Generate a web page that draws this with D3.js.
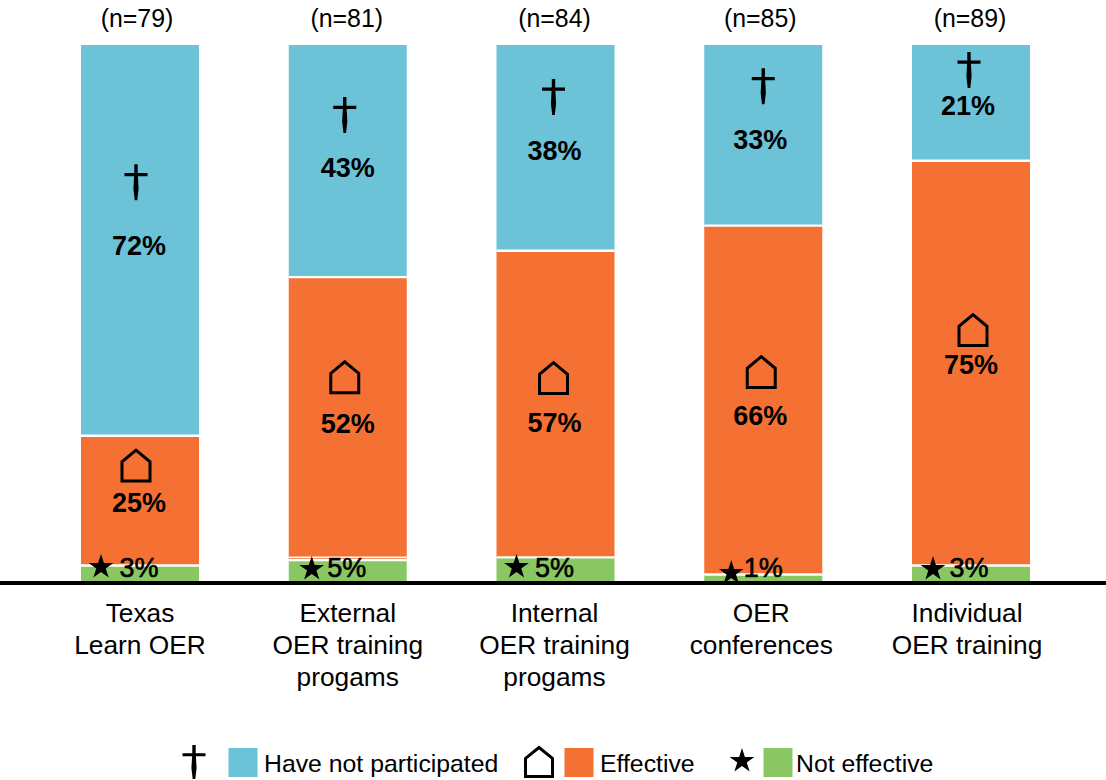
<!DOCTYPE html>
<html><head><meta charset="utf-8">
<script src="https://cdnjs.cloudflare.com/ajax/libs/d3/7.8.5/d3.min.js"></script>
<style>html,body{margin:0;padding:0;background:#fff}svg{display:block}text{font-family:"Liberation Sans",Arial,sans-serif;fill:#000}</style>
</head><body><svg id="c" width="1106" height="780"></svg>
<script>
const categories=[["Texas","Learn OER"],["External","OER training","progams"],["Internal","OER training","progams"],["OER","conferences"],["Individual","OER training"]];
const sampleSizes=["(n=79)","(n=81)","(n=84)","(n=85)","(n=89)"];
const notEffective=[2.9,3.9,4.4,1.2,2.9];
const sliver=[0,0.5,0,0,0];
const effective=[24.2,52.3,57.2,65.1,75.5];
const notParticipated=[72.9,43.3,38.4,33.7,21.6];
const labelsNotEffective=["3%","5%","5%","1%","3%"];
const labelsEffective=["25%","52%","57%","66%","75%"];
const labelsNotParticipated=["72%","43%","38%","33%","21%"];
const legendNames=["Have not participated","Effective","Not effective"];

const colors={np:"#6cc3d8",e:"#f57133",ne:"#8ac764"};
const svg=d3.select("#c");
const idx=d3.range(categories.length);
const x=d3.scaleBand().domain(idx).range([81,1030]).paddingInner(1-118/207.75).paddingOuter(0);
const y=d3.scaleLinear().domain([0,100]).range([581,45]);
const series=[
 {key:"ne",vals:notEffective,fill:colors.ne},
 {key:"sl",vals:sliver,fill:colors.e},
 {key:"e",vals:effective,fill:colors.e},
 {key:"np",vals:notParticipated,fill:colors.np}];
const table=idx.map(i=>({i,ne:notEffective[i],sl:sliver[i],e:effective[i],np:notParticipated[i]}));
const stacked=d3.stack().keys(series.map(s=>s.key))(table);
stacked.forEach((layer,k)=>{
 svg.append("g").attr("fill",series[k].fill).selectAll("rect").data(layer.filter(d=>d[1]>d[0])).join("rect")
  .attr("x",d=>x(d.data.i)).attr("width",x.bandwidth())
  .attr("y",d=>y(d[1])).attr("height",d=>y(d[0])-y(d[1]));
});
// white separators between the stacked segments
stacked.slice(0,-1).forEach(layer=>{
 svg.append("g").attr("stroke","#fff").attr("stroke-width",layer.key==="sl"?1.6:2.4).selectAll("line").data(layer.filter(d=>d[1]>d[0])).join("line")
  .attr("x1",d=>x(d.data.i)).attr("x2",d=>x(d.data.i)+x.bandwidth())
  .attr("y1",d=>y(d[1])).attr("y2",d=>y(d[1]));
});
const cx=i=>x(i)+x.bandwidth()/2;
// axis
const axis=d3.axisBottom(x).tickSize(0).tickFormat("");
const ax=svg.append("g").attr("transform","translate(0,583)").call(axis);
ax.select(".domain").attr("d","M0,0H1106").attr("stroke","#000").attr("stroke-width",4);
ax.selectAll(".tick text").remove();
const catDx=[0,0,-1,-2,-4];
ax.selectAll(".tick").append("text").attr("text-anchor","middle").attr("font-size",26.3)
 .attr("fill","#000").each(function(i){
  d3.select(this).selectAll("tspan").data(categories[i]).join("tspan")
   .attr("x",catDx[i]).attr("y",(d,k)=>39+32*k).text(d=>d);
 });
// icon helpers
function dagger(g,h){ // thin cross with tapered shaft
 g.append("path").attr("fill","#000").attr("d",`M-1.7,${-h*.5}H1.7V${-h*.26}H11.5V${-h*.26+3.2}H1.9L2.6,${h*.18}L1.3,${h*.5}H-1.3L-2.6,${h*.18}L-1.9,${-h*.26+3.2}H-11.5V${-h*.26}H-1.7Z`);
}
function house(g,w,h){
 g.append("path").attr("fill","none").attr("stroke","#000").attr("stroke-width",3)
  .attr("d",`M${-w/2},${h/2}V${-h*.125}L0,${-h/2}L${w/2},${-h*.125}V${h/2}Z`);
}
function star(g,s){g.append("path").attr("fill","#000").attr("d",d3.symbol(d3.symbolStar,s)());}
const icon=(px,py)=>svg.append("g").attr("transform",`translate(${px},${py})`);
// label placement: offsets from each bar centre / segment centre
const npLabelDx=[-1,0,-1,-3,-3],npLabelDy=[6,7,3,5,3],npIconDx=[-4,-3,-2,0,-2],npIconGap=[64,53,54,54,36];
const eLabelDx=[-1,0,-1,-3,0],eLabelDy=[2,7,19,16,2],eIconDx=[-4,-3,-2,-2,2],eIconGap=[37,47,45,44,35];
const neLabelDx=[-1,-1,-1,0,-2],neIconDx=[-39,-36,-39,-32,-38],neIconY=[567,569,567,573,569],neLabelY=[568,568,568,568,568];
const segCentre=(a,b)=>(y(a)+y(b))/2;
idx.forEach(i=>{
 const top=notEffective[i]+sliver[i]+effective[i];
 const npY=segCentre(top,top+notParticipated[i])+npLabelDy[i];
 const eY=segCentre(top-effective[i],top)+eLabelDy[i];
 const t=(s,px,py,fw,sz)=>svg.append("text").attr("x",px).attr("y",py).attr("text-anchor","middle").attr("dominant-baseline","central").attr("font-size",sz).attr("font-weight",fw).text(s);
 t(labelsNotParticipated[i],cx(i)+npLabelDx[i],npY,"bold",27);
 t(labelsEffective[i],cx(i)+eLabelDx[i],eY,"bold",27);
 t(labelsNotEffective[i],cx(i)+neLabelDx[i],neLabelY[i],"normal",27).attr("stroke","#000").attr("stroke-width",.6);
 t(sampleSizes[i],cx(i)+[-3,-1,-1,-3,-1][i],18,"normal",24.9);
 dagger(icon(cx(i)+npIconDx[i],npY-npIconGap[i]),36);
 house(icon(cx(i)+eIconDx[i],eY-eIconGap[i]),28,31);
 star(icon(cx(i)+neIconDx[i],neIconY[i]),190);
});
// legend
const lg=svg.append("g");
const legendX=[228.5,564.5,763.5],legendText=[264,600,796],legendFill=[colors.np,colors.e,colors.ne];
legendNames.forEach((n,k)=>{
 lg.append("rect").attr("x",legendX[k]).attr("y",748).attr("width",29).attr("height",29).attr("fill",legendFill[k]);
 lg.append("text").attr("x",legendText[k]).attr("y",772).attr("font-size",24.8).text(n);
});
dagger(lg.append("g").attr("transform","translate(194,762)"),34);
house(lg.append("g").attr("transform","translate(539,762)"),27,29);
star(lg.append("g").attr("transform","translate(742,761)"),190);
</script></body></html>
